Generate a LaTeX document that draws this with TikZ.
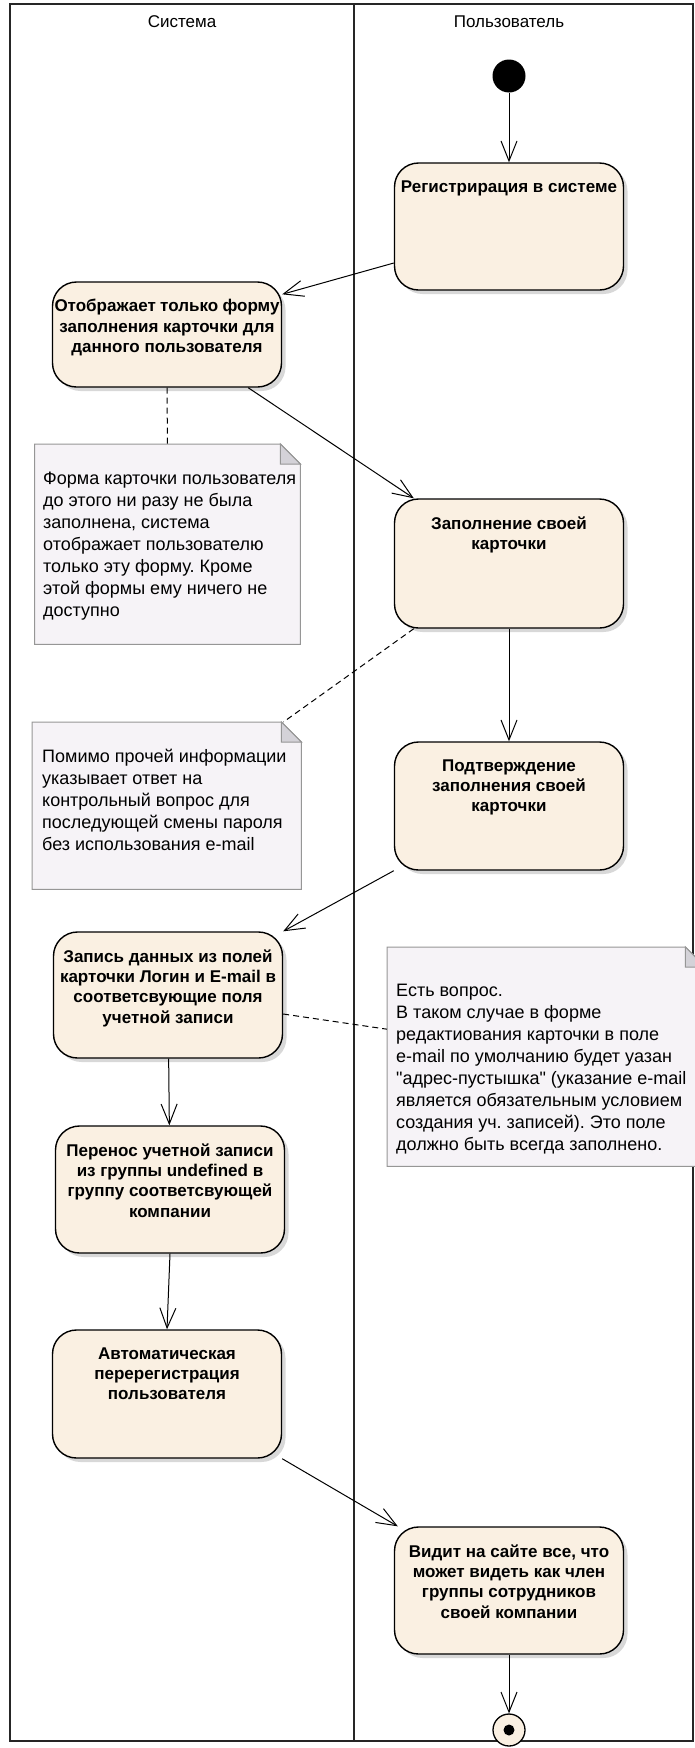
\documentclass[tikz,border=0pt]{standalone}
\usepackage{fontspec}
\setmainfont{Liberation Sans}[Ligatures=TeXOff]
\usetikzlibrary{arrows.meta, positioning, shadows, backgrounds, calc}
\frenchspacing
\definecolor{actfill}{RGB}{250,240,226}
\definecolor{notefill}{RGB}{246,243,247}
\definecolor{notedraw}{RGB}{150,150,150}
\definecolor{foldfill}{RGB}{212,210,216}
\newcommand{\acttxt}[2][92pt]{\parbox[t][#1][t]{225pt}{\centering #2}}
\newcommand{\notepaper}[1]{%
    \begin{scope}[on background layer]
        \filldraw[notebox] (#1.south west) -- (#1.north west) -- ([xshift=-20pt]#1.north east)
            -- ([yshift=-20pt]#1.north east) -- (#1.south east) -- cycle;
        \filldraw[notebox, fill=foldfill] ([xshift=-20pt]#1.north east)
            -- ([xshift=-20pt,yshift=-20pt]#1.north east) -- ([yshift=-20pt]#1.north east) -- cycle;
    \end{scope}}
\tikzset{
    activity/.style={
        rectangle,
        rounded corners=24pt,
        draw=black,
        line width=1.4pt,
        fill=actfill,
        drop shadow={shadow xshift=4pt, shadow yshift=-4pt, fill=black!30},
        minimum width=229pt,
        inner xsep=2pt,
        inner ysep=17.5pt,
        font=\fontsize{17}{20.3}\selectfont\bfseries,
    },
    notepage/.style={
        rectangle,
        draw=none,
        anchor=north west,
        inner sep=0pt,
    },
    notebox/.style={
        fill=notefill,
        draw=notedraw,
        line width=1pt,
    },
    notetext/.style={
        anchor=north west,
        align=left,
        inner sep=0pt,
        font=\fontsize{18}{22}\selectfont,
    },
    initial/.style={
        circle,
        fill=black,
        minimum size=33pt,
        inner sep=0pt,
    },
    final/.style={
        circle,
        draw=black,
        line width=1.3pt,
        fill=actfill,
        minimum size=32pt,
        inner sep=0pt,
    },
    finaldot/.style={
        circle,
        fill=black,
        minimum size=11pt,
        inner sep=0pt,
    },
    lane/.style={
        draw=black!85,
        line width=1.5pt,
    },
    flow/.style={
        ->,
        line width=1pt,
    },
    anchorline/.style={
        line width=1pt,
        dash pattern=on 6pt off 4pt,
    },
}

\begin{document}
\begin{tikzpicture}[x=1pt, y=-1pt, >={Straight Barb[length=20pt,width=16pt]},
    font=\fontsize{17}{20}\selectfont]
    \useasboundingbox (0,0) rectangle (694,1748);

    % swimlanes
    \begin{scope}[on background layer]
        \draw[lane] (10,4) rectangle (693,1741);
        \draw[lane] (354,4) -- (354,1741);
    \end{scope}
    \node (sys) at (182,22) {Система};
    \node (usr) at (509,22) {Пользователь};

    % activities
    \node[initial] (start) at (509,76) {};
    \node[activity] (n1) at (509,226.5) {\acttxt{Регистрирация в системе}};
    \node[activity] (n2) at (167,334.5) {\acttxt[70pt]{Отображает только форму\\заполнения карточки для\\данного пользователя}};
    \node[activity] (n3) at (509,563.5) {\acttxt[94pt]{Заполнение своей\\карточки}};
    \node[activity] (n4) at (509,806) {\acttxt[93pt]{Подтверждение\\заполнения своей\\карточки}};
    \node[activity] (n5) at (168,995) {\acttxt[91pt]{Запись данных из полей\\карточки Логин и E-mail в\\соответсвующие поля\\учетной записи}};
    \node[activity] (n6) at (170,1189.5) {\acttxt{Перенос учетной записи\\из группы undefined в\\группу соответсвующей\\компании}};
    \node[activity] (n7) at (167,1394) {\acttxt[93pt]{Автоматическая\\перерегистрация\\пользователя}};
    \node[activity] (n8) at (509,1590.5) {\acttxt{Видит на сайте все, что\\может видеть как член\\группы сотрудников\\своей компании}};
    \node[final] (stop) at (509,1730) {};
    \node[finaldot] (stopdot) at (stop) {};

    % notes
    \node[notepage, minimum width=265.5pt, minimum height=200pt] (note1) at (34.5,444) {};
    \notepaper{note1}
    \node[notetext] (note1txt) at ([xshift=8.5pt,yshift=-28pt]note1.north west)
        {Форма карточки пользователя\\до этого ни разу не была\\заполнена, система\\отображает пользователю\\только эту форму. Кроме\\этой формы ему ничего не\\доступно};

    \node[notepage, minimum width=269pt, minimum height=167pt] (note2) at (32,722) {};
    \notepaper{note2}
    \node[notetext] (note2txt) at ([xshift=10pt,yshift=-26.5pt]note2.north west)
        {Помимо прочей информации\\указывает ответ на\\контрольный вопрос для\\последующей смены пароля\\без использования e-mail};

    \node[notepage, minimum width=318pt, minimum height=219pt] (note3) at (387,947) {};
    \notepaper{note3}
    \node[notetext] (note3txt) at ([xshift=9pt,yshift=-37pt]note3.north west)
        {Есть вопрос.\\В таком случае в форме\\редактиования карточки в поле\\e-mail по умолчанию будет уазан\\"адрес-пустышка" (указание e-mail\\является обязательным условием\\создания уч. записей). Это поле\\должно быть всегда заполнено.};

    % control flow
    \draw[flow] (start) -- (n1);
    \draw[flow] ([yshift=-36.5pt]n1.west) -- ([yshift=-13pt]n2.north east);
    \draw[flow] ([xshift=-34pt]n2.south east) -- ([xshift=20pt]n3.north west);
    \draw[flow] (n3) -- (n4);
    \draw[flow] (n4.south west) -- (n5.north east);
    \draw[flow] (n5) -- (n6);
    \draw[flow] (n6.south) -- (n7.north);
    \draw[flow] (n7.south east) -- ([xshift=4pt]n8.north west);
    \draw[flow] (n8) -- (stop);

    % note links
    \draw[anchorline] (n2.south) -- (note1.north);
    \draw[anchorline] ([xshift=20pt]n3.south west) -- ([xshift=-18pt]note2.north east);
    \draw[anchorline] ([yshift=-19pt]n5.east) -- ([yshift=27.5pt]note3.west);
\end{tikzpicture}
\end{document}
